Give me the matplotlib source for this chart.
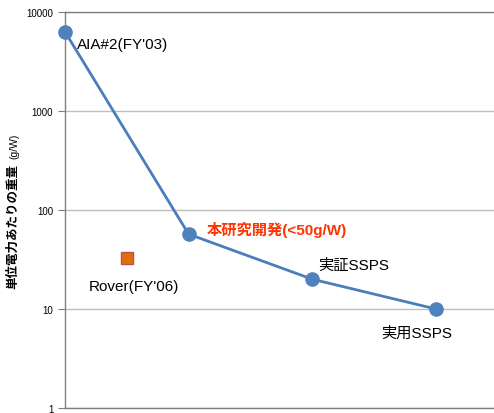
import numpy as np
import matplotlib.pyplot as plt
import matplotlib.ticker as mticker

plt.rcParams['font.family'] = ['Liberation Sans', 'Noto Sans CJK JP', 'DejaVu Sans']

# 単位電力あたりの重量 (g/W)
x_line = [0, 1, 2, 3]
y_line = [6300, 57, 20, 10]
line_names = ["AIA#2(FY'03)", '本研究開発(<50g/W)', '実証SSPS', '実用SSPS']

x_rover = [0.5]
y_rover = [33]
rover_name = "Rover(FY'06)"

yticks = [1, 10, 100, 1000, 10000]

fig = plt.figure(figsize=(4.94, 4.14), dpi=100)
ax = fig.add_axes([65/494, 5/414, 1 - 65/494, 396/414])

ax.set_yscale('log')
ax.set_ylim(1, 10000)
ax.set_xlim(0, 3.47)

ax.grid(axis='y', color='#bfbfbf', linewidth=1)
ax.set_axisbelow(True)

ax.plot(x_line, y_line, color='#4a7ebb', linewidth=2, marker='o',
        markersize=9.5, markerfacecolor='#4f81bd', markeredgecolor='#4f81bd',
        clip_on=False, zorder=3)
ax.plot(x_rover, y_rover, linestyle='none', marker='s', markersize=8,
        markerfacecolor='#e46c0a', markeredgecolor='#c0504d',
        markeredgewidth=1, zorder=3)

ax.text(0.1, 4800, line_names[0], fontsize=11, va='center', ha='left')
ax.text(1.15, 65, line_names[1], fontsize=11, va='center', ha='left',
        color='#ff3300', fontweight='bold')
ax.text(2.05, 28, line_names[2], fontsize=11, va='center', ha='left')
ax.text(2.56, 5.8, line_names[3], fontsize=11, va='center', ha='left')
ax.text(0.19, 17, rover_name, fontsize=11, va='center', ha='left')

ax.yaxis.set_major_locator(mticker.FixedLocator(yticks))
ax.yaxis.set_minor_locator(mticker.NullLocator())
ax.yaxis.set_major_formatter(mticker.FuncFormatter(lambda v, p: f'{int(v)}'))
ax.tick_params(axis='y', labelsize=7, length=5, color='#808080', direction='out')
ax.set_xticks([])

for side in ['left', 'bottom', 'top']:
    ax.spines[side].set_color('#808080')
    ax.spines[side].set_linewidth(1)
ax.spines['right'].set_visible(False)

fig.text(13/494, 1 - 289/414, '単位電力あたりの重量', rotation=90, fontsize=9,
         fontweight='bold', ha='center', va='bottom', family='Noto Sans CJK JP')
fig.text(14/494, 1 - 159/414, '(g/W)', rotation=90, fontsize=7.5,
         ha='center', va='bottom')

fig.savefig('out.png', dpi=100)
